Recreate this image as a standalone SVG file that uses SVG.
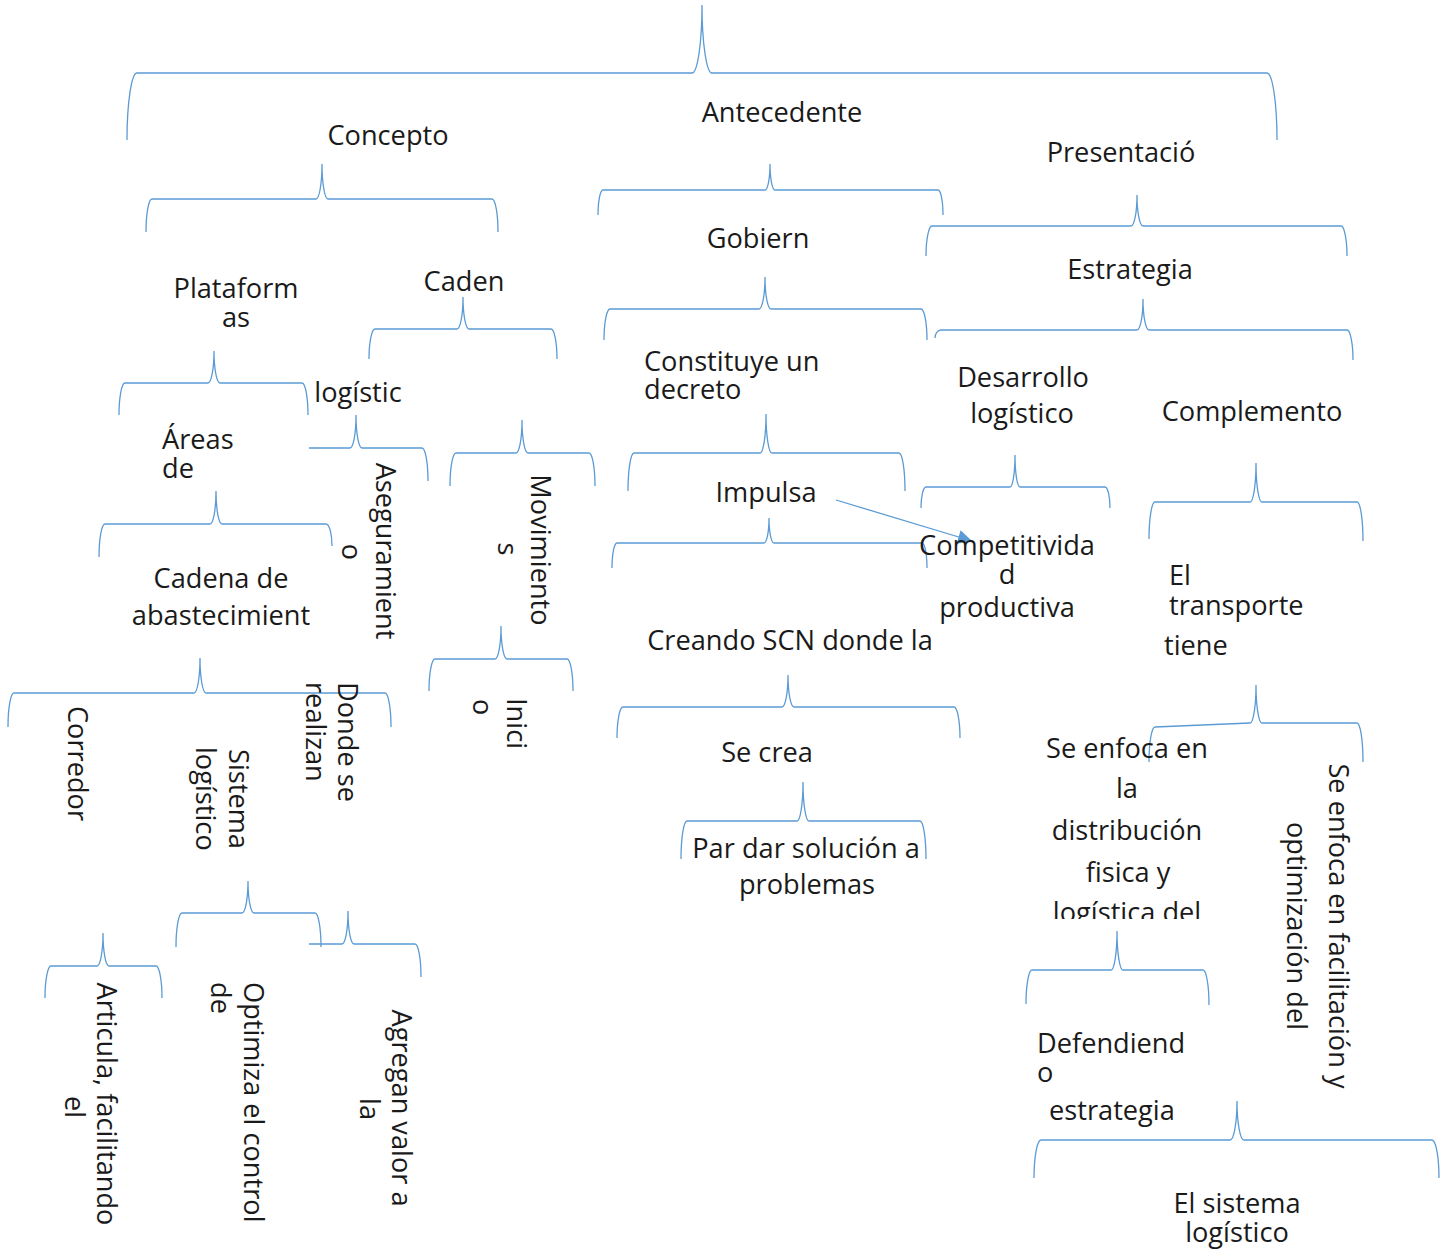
<svg xmlns="http://www.w3.org/2000/svg" width="1450" height="1251" viewBox="0 0 1450 1251">
<style>
.b{fill:none;stroke:#5b9bd5;stroke-width:1.3}
.t{font-family:"Open Sans","Noto Sans","Liberation Sans",sans-serif;font-size:27.2px;font-weight:400;fill:#1a1a1a}
.m{text-anchor:middle}
</style>
<defs>
<marker id="ah" viewBox="0 0 10 10" refX="10" refY="5" markerWidth="16" markerHeight="14" markerUnits="userSpaceOnUse" orient="auto">
<path d="M0,0 L10,5 L0,10 z" fill="#5b9bd5"/>
</marker>
<clipPath id="clipLog"><rect x="1000" y="700" width="250" height="219"/></clipPath>
</defs>
<rect width="1450" height="1251" fill="#ffffff"/>
<g id="connectors">
<path class="b" d="M127,140 A10,67 0 0 1 137,73 L692,73 A10,68 0 0 0 702,5 A10,68 0 0 0 712,73 L1267,73 A10,67 0 0 1 1277,140"/>
<path class="b" d="M146,232 A6,33 0 0 1 152,199 L316,199 A6,35 0 0 0 322,164 A6,35 0 0 0 328,199 L492,199 A6,33 0 0 1 498,232"/>
<path class="b" d="M598,215 A5,25 0 0 1 603,190 L765,190 A5,26 0 0 0 770,164 A5,26 0 0 0 775,190 L938,190 A5,25 0 0 1 943,215"/>
<path class="b" d="M926,256 A6,30 0 0 1 932,226 L1131,226 A6,31 0 0 0 1137,195 A6,31 0 0 0 1143,226 L1341,226 A6,30 0 0 1 1347,256"/>
<path class="b" d="M604,340 A6,31 0 0 1 610,309 L759,309 A6,32 0 0 0 765,277 A6,32 0 0 0 771,309 L921,309 A6,31 0 0 1 927,340"/>
<path class="b" d="M935,338 A6,8 0 0 1 941,330 L1137,330 A6,31 0 0 0 1143,299 A6,31 0 0 0 1149,330 L1347,330 A6,30 0 0 1 1353,360"/>
<path class="b" d="M119,415 A6,32 0 0 1 125,383 L208,383 A6,32 0 0 0 214,351 A6,32 0 0 0 220,383 L302,383 A6,32 0 0 1 308,415"/>
<path class="b" d="M369,359 A6,30 0 0 1 375,329 L457,329 A6,32 0 0 0 463,297 A6,32 0 0 0 469,329 L551,329 A6,30 0 0 1 557,359"/>
<path class="b" d="M309,448 L350,448 A6,33 0 0 0 356,415 A6,33 0 0 0 362,448 L422,448 A6,33 0 0 1 428,481"/>
<path class="b" d="M450,486 A6,33 0 0 1 456,453 L516,453 A6,33 0 0 0 522,420 A6,33 0 0 0 528,453 L589,453 A6,33 0 0 1 595,486"/>
<path class="b" d="M99,557 A6,33 0 0 1 105,524 L210,524 A6,33 0 0 0 216,491 A6,33 0 0 0 222,524 L326,524 A6,22 0 0 1 332,546"/>
<path class="b" d="M628,491 A6,38 0 0 1 634,453 L760,453 A6,39 0 0 0 766,414 A6,39 0 0 0 772,453 L899,453 A6,38 0 0 1 905,491"/>
<path class="b" d="M612,568 A5,25 0 0 1 617,543 L764,543 A5,25 0 0 0 769,518 A5,25 0 0 0 774,543 L922,543 A5,25 0 0 1 927,568"/>
<path class="b" d="M921,508 A5,21 0 0 1 926,487 L1010,487 A5,32 0 0 0 1015,455 A5,32 0 0 0 1020,487 L1105,487 A5,21 0 0 1 1110,508"/>
<path class="b" d="M1149,539 A6,37 0 0 1 1155,502 L1250,502 A6,39 0 0 0 1256,463 A6,39 0 0 0 1262,502 L1357,502 A6,39 0 0 1 1363,541"/>
<path class="b" d="M8,727 A6,34 0 0 1 14,693 L194,693 A6,35 0 0 0 200,658 A6,35 0 0 0 206,693 L385,693 A6,34 0 0 1 391,727"/>
<path class="b" d="M429,691 A6,32 0 0 1 435,659 L495,659 A6,33 0 0 0 501,626 A6,33 0 0 0 507,659 L567,659 A6,32 0 0 1 573,691"/>
<path class="b" d="M617,738 A6,31 0 0 1 623,707 L782,707 A6,32 0 0 0 788,675 A6,32 0 0 0 794,707 L954,707 A6,31 0 0 1 960,738"/>
<path class="b" d="M681,859 A6,38 0 0 1 687,821 L797,821 A6,39 0 0 0 803,782 A6,39 0 0 0 809,821 L920,821 A6,38 0 0 1 926,859"/>
<path class="b" d="M1149,762 A6,35 0 0 1 1155,727 L1250,723 A6,38 0 0 0 1256,685 A6,38 0 0 0 1262,723 L1357,723 A6,39 0 0 1 1363,762"/>
<path class="b" d="M176,947 A6,34 0 0 1 182,913 L242,913 A6,32 0 0 0 248,881 A6,32 0 0 0 254,913 L315,913 A6,34 0 0 1 321,947"/>
<path class="b" d="M309,944 L342,944 A6,33 0 0 0 348,911 A6,33 0 0 0 354,944 L415,944 A6,33 0 0 1 421,977"/>
<path class="b" d="M45,998 A6,32 0 0 1 51,966 L97,966 A6,33 0 0 0 103,933 A6,33 0 0 0 109,966 L156,966 A6,32 0 0 1 162,998"/>
<path class="b" d="M1026,1004 A6,34 0 0 1 1032,970 L1111,970 A6,39 0 0 0 1117,931 A6,39 0 0 0 1123,970 L1203,970 A6,35 0 0 1 1209,1005"/>
<path class="b" d="M1034,1178 A7,38 0 0 1 1041,1140 L1230,1140 A7,39 0 0 0 1237,1101 A7,39 0 0 0 1244,1140 L1432,1140 A7,38 0 0 1 1439,1178"/>
<line x1="836" y1="500" x2="972" y2="541" stroke="#5b9bd5" stroke-width="1.3" marker-end="url(#ah)"/>
</g>
<g id="n-antecedente"><text class="t m" x="782" y="122">Antecedente</text></g>
<g id="n-concepto"><text class="t m" x="388" y="145">Concepto</text></g>
<g id="n-presentacion"><text class="t m" x="1121" y="162">Presentació</text></g>
<g id="n-gobierno"><text class="t m" x="758" y="248">Gobiern</text></g>
<g id="n-estrategia"><text class="t m" x="1130" y="279">Estrategia</text></g>
<g id="n-plataformas"><text class="t m" x="236" y="298">Plataform</text><text class="t m" x="236" y="327">as</text></g>
<g id="n-caden"><text class="t m" x="464" y="291">Caden</text></g>
<g id="n-logistic"><text class="t m" x="358" y="402">logístic</text></g>
<g id="n-areas"><text class="t" x="162" y="449">Áreas</text><text class="t" x="162" y="478">de</text></g>
<g id="n-cadena"><text class="t m" x="221" y="588">Cadena de</text><text class="t m" x="221" y="625">abastecimient</text></g>
<g id="n-constituye"><text class="t" x="644" y="371">Constituye un</text><text class="t" x="644" y="399">decreto</text></g>
<g id="n-impulsa"><text class="t m" x="766" y="502">Impulsa</text></g>
<g id="n-desarrollo"><text class="t m" x="1023" y="387">Desarrollo</text><text class="t m" x="1022" y="423">logístico</text></g>
<g id="n-complemento"><text class="t m" x="1252" y="421">Complemento</text></g>
<g id="n-competitividad"><text class="t m" x="1007" y="555">Competitivida</text><text class="t m" x="1007" y="584">d</text><text class="t m" x="1007" y="617">productiva</text></g>
<g id="n-transporte"><text class="t" x="1169" y="585">El</text><text class="t" x="1169" y="615">transporte</text><text class="t" x="1164" y="655">tiene</text></g>
<g id="n-creando"><text class="t m" x="790" y="650">Creando SCN donde la</text></g>
<g id="n-secrea"><text class="t m" x="767" y="762">Se crea</text></g>
<g id="n-par"><text class="t m" x="806" y="858">Par dar solución a</text><text class="t m" x="807" y="894">problemas</text></g>
<g id="n-seenfoca"><g clip-path="url(#clipLog)"><text class="t m" x="1127" y="758">Se enfoca en</text><text class="t m" x="1127" y="798">la</text><text class="t m" x="1127" y="840">distribución</text><text class="t m" x="1128" y="882">fisica y</text><text class="t m" x="1127" y="922">logística del</text></g></g>
<g id="n-defendiendo"><text class="t" x="1037" y="1053">Defendiend</text><text class="t" x="1037" y="1082">o</text><text class="t" x="1049" y="1120">estrategia</text></g>
<g id="n-sistema-logistico"><text class="t m" x="1237" y="1213">El sistema</text><text class="t m" x="1237" y="1242">logístico</text></g>
<g id="n-aseguramiento"><text class="t m" transform="translate(376,551) rotate(90)">Aseguramient</text><text class="t m" transform="translate(342,552) rotate(90)">o</text></g>
<g id="n-movimientos"><text class="t m" transform="translate(531,550) rotate(90)">Movimiento</text><text class="t m" transform="translate(498,549) rotate(90)">s</text></g>
<g id="n-inicio"><text class="t" transform="translate(507,698) rotate(90)">Inici</text><text class="t" transform="translate(473,699) rotate(90)">o</text></g>
<g id="n-corredor"><text class="t" transform="translate(68,706) rotate(90)">Corredor</text></g>
<g id="n-sistema"><text class="t" transform="translate(229,749) rotate(90)">Sistema</text><text class="t" transform="translate(196,747) rotate(90)">logístico</text></g>
<g id="n-donde"><text class="t" transform="translate(338,682) rotate(90)">Donde se</text><text class="t" transform="translate(306,682) rotate(90)">realizan</text></g>
<g id="n-articula"><text class="t m" transform="translate(97,1104) rotate(90)">Articula, facilitando</text><text class="t m" transform="translate(65,1107) rotate(90)">el</text></g>
<g id="n-optimiza"><text class="t" transform="translate(244,982) rotate(90)">Optimiza el control</text><text class="t" transform="translate(211,982) rotate(90)">de</text></g>
<g id="n-agregan"><text class="t m" transform="translate(392,1108) rotate(90)">Agregan valor a</text><text class="t m" transform="translate(360,1109) rotate(90)">la</text></g>
<g id="n-facilitacion"><text class="t m" transform="translate(1329,926) rotate(90)">Se enfoca en facilitación y</text><text class="t m" transform="translate(1287,926) rotate(90)">optimización del</text></g>
</svg>
